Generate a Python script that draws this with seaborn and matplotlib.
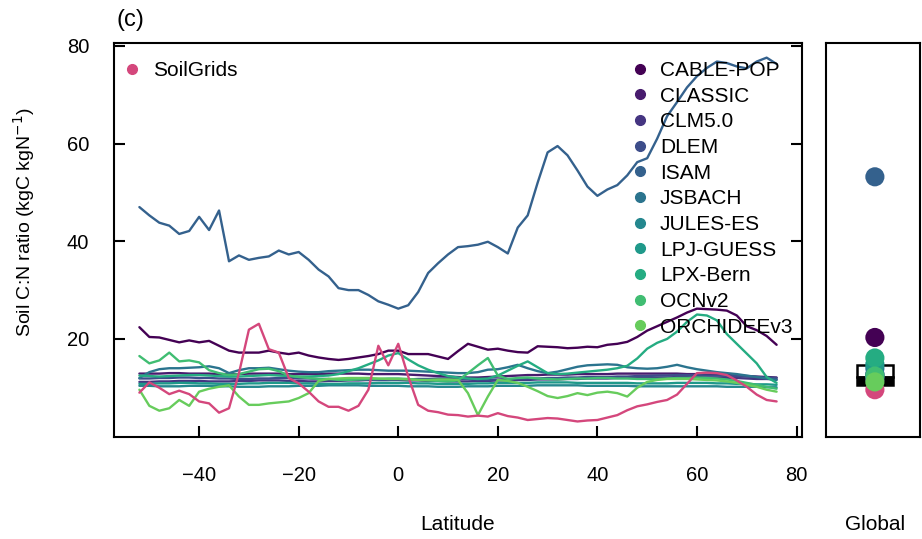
import numpy as np
import pandas as pd
import matplotlib
matplotlib.use("Agg")
import matplotlib.pyplot as plt
from matplotlib.lines import Line2D
from matplotlib.patches import Rectangle
import seaborn as sns

# Latitude grid (2-degree zonal bands)
latitude = np.arange(-52, 77, 2)

models = ["CABLE-POP", "CLASSIC", "CLM5.0", "DLEM", "ISAM", "JSBACH",
          "JULES-ES", "LPJ-GUESS", "LPX-Bern", "OCNv2", "ORCHIDEEv3"]

# Zonal-mean soil C:N ratio (kgC kgN-1), one row of 13 bands per line
cable_pop = [22.4, 20.4, 20.3, 19.8, 19.3, 19.7, 19.3, 19.6, 18.6, 17.6, 17.2, 17.2, 17.2,
             17.6, 17.2, 16.9, 17.2, 16.6, 16.2, 15.9, 15.7, 15.9, 16.2, 16.5, 16.9, 17.6,
             17.6, 16.9, 16.9, 16.9, 16.4, 15.9, 17.5, 19.0, 18.4, 17.8, 18.0, 17.6, 17.3,
             17.2, 18.5, 18.4, 18.3, 18.1, 18.2, 18.4, 18.3, 18.8, 19.0, 19.4, 20.4, 21.7,
             22.6, 23.5, 24.4, 25.4, 26.2, 26.1, 26.0, 25.8, 24.8, 22.6, 21.8, 20.6, 18.8]
classic = [12.9, 12.9, 12.9, 13.0, 13.0, 12.9, 12.9, 12.9, 12.8, 12.8, 12.8, 12.9, 12.9,
           12.9, 12.9, 12.8, 12.8, 12.8, 12.8, 12.9, 12.9, 12.9, 12.9, 12.8, 12.8, 12.8,
           12.8, 12.7, 12.6, 12.5, 12.4, 12.3, 12.2, 12.1, 12.1, 12.2, 12.3, 12.4, 12.5,
           12.6, 12.6, 12.7, 12.7, 12.7, 12.8, 12.8, 12.8, 12.8, 12.9, 12.9, 12.9, 12.9,
           12.9, 12.9, 12.9, 12.8, 12.8, 12.7, 12.7, 12.6, 12.5, 12.4, 12.3, 12.2, 12.1]
clm50 = [11.2, 11.2, 11.3, 11.3, 11.4, 11.4, 11.4, 11.3, 11.3, 11.3, 11.4, 11.4, 11.5,
         11.5, 11.5, 11.4, 11.4, 11.3, 11.3, 11.4, 11.4, 11.5, 11.5, 11.6, 11.6, 11.6,
         11.6, 11.5, 11.5, 11.4, 11.4, 11.3, 11.3, 11.3, 11.4, 11.4, 11.5, 11.5, 11.6,
         11.6, 11.7, 11.7, 11.7, 11.8, 11.8, 11.9, 11.9, 11.9, 12.0, 12.0, 12.0, 12.1,
         12.1, 12.1, 12.2, 12.2, 12.2, 12.1, 12.1, 12.0, 12.0, 11.9, 11.8, 11.8, 11.7]
dlem = [11.9, 11.9, 12.0, 12.0, 12.1, 12.1, 12.0, 12.0, 11.9, 11.9, 11.8, 11.8, 11.9,
        11.9, 12.0, 12.0, 11.9, 11.9, 11.8, 11.8, 11.7, 11.7, 11.7, 11.6, 11.6, 11.6,
        11.7, 11.7, 11.8, 11.8, 11.9, 11.9, 11.8, 11.8, 11.7, 11.7, 11.7, 11.8, 11.8,
        11.9, 11.9, 12.0, 12.0, 12.1, 12.1, 12.2, 12.2, 12.2, 12.3, 12.3, 12.4, 12.4,
        12.5, 12.5, 12.6, 12.6, 12.6, 12.5, 12.5, 12.4, 12.4, 12.3, 12.2, 12.1, 12.0]
isam = [47.0, 45.3, 43.8, 43.2, 41.5, 42.1, 45.0, 42.3, 46.3, 35.9, 37.1, 36.2, 36.6,
        36.9, 38.1, 37.3, 37.8, 36.2, 34.2, 32.8, 30.4, 30.0, 30.0, 29.0, 27.7, 27.0,
        26.2, 26.9, 29.6, 33.5, 35.5, 37.3, 38.8, 39.0, 39.3, 39.9, 38.8, 37.5, 42.8,
        45.3, 52.0, 58.2, 59.5, 57.6, 54.5, 51.2, 49.3, 50.6, 51.5, 53.5, 56.2, 57.0,
        61.0, 65.6, 68.5, 71.5, 73.8, 75.5, 76.8, 76.5, 75.8, 75.4, 76.8, 77.6, 76.3]
jsbach = [12.0, 13.2, 13.8, 14.0, 14.0, 14.1, 14.2, 14.4, 14.0, 13.0, 13.6, 14.0, 14.0,
          14.1, 13.8, 13.5, 13.3, 13.2, 13.2, 13.4, 13.5, 13.6, 13.7, 13.7, 13.6, 13.5,
          13.5, 13.5, 13.4, 13.3, 13.2, 13.1, 13.0, 13.0, 13.2, 13.7, 13.8, 14.2, 14.7,
          14.0, 13.4, 13.0, 13.3, 13.8, 14.3, 14.6, 14.7, 14.8, 14.7, 14.2, 14.0, 13.9,
          14.0, 14.3, 14.7, 14.2, 13.8, 13.5, 13.2, 13.0, 12.8, 12.5, 12.2, 11.9, 11.6]
jules_es = [10.4, 10.4, 10.3, 10.3, 10.3, 10.4, 10.4, 10.4, 10.3, 10.3, 10.2, 10.2, 10.2,
            10.3, 10.3, 10.3, 10.4, 10.4, 10.4, 10.5, 10.5, 10.5, 10.5, 10.4, 10.4, 10.4,
            10.4, 10.3, 10.3, 10.3, 10.2, 10.2, 10.2, 10.3, 10.3, 10.3, 10.4, 10.4, 10.4,
            10.4, 10.5, 10.5, 10.5, 10.5, 10.5, 10.4, 10.4, 10.4, 10.4, 10.4, 10.3, 10.3,
            10.3, 10.3, 10.3, 10.3, 10.3, 10.3, 10.3, 10.2, 10.2, 10.2, 10.2, 10.1, 10.1]
lpj_guess = [10.8, 10.8, 10.9, 10.9, 11.0, 11.0, 10.9, 10.9, 10.8, 10.8, 10.8, 10.9, 10.9,
             11.0, 11.0, 11.0, 10.9, 10.9, 10.8, 10.8, 10.8, 10.9, 10.9, 10.9, 11.0, 11.0,
             11.0, 11.0, 10.9, 10.9, 10.8, 10.8, 10.8, 10.8, 10.9, 10.9, 11.0, 11.0, 11.0,
             11.0, 11.1, 11.1, 11.1, 11.1, 11.0, 11.0, 11.0, 11.0, 11.0, 11.0, 10.9, 10.9,
             10.9, 10.9, 11.0, 11.0, 11.0, 11.0, 10.9, 10.9, 10.8, 10.8, 10.7, 10.7, 10.6]
lpx_bern = [12.5, 12.4, 12.3, 12.4, 12.5, 12.6, 12.6, 12.5, 12.4, 12.3, 12.3, 12.4, 12.5,
            12.6, 12.5, 12.4, 12.3, 12.3, 12.4, 12.5, 12.8, 13.4, 14.0, 14.8, 15.6, 16.6,
            17.1, 15.8, 14.6, 13.7, 13.0, 12.4, 12.1, 11.9, 11.8, 11.9, 12.5, 13.5, 14.5,
            15.4, 14.2, 13.0, 12.8, 12.9, 13.1, 13.3, 13.5, 13.7, 14.0, 14.5, 16.0, 18.0,
            19.2, 20.0, 21.5, 23.5, 25.0, 24.8, 23.8, 21.0, 19.0, 17.0, 15.0, 12.2, 11.0]
ocnv2 = [16.5, 15.0, 15.6, 17.2, 15.4, 15.6, 15.2, 13.6, 13.0, 12.6, 12.8, 13.3, 13.8,
         13.9, 13.4, 12.5, 12.2, 12.0, 11.8, 11.8, 11.6, 11.6, 11.7, 11.8, 11.8, 11.9,
         11.9, 11.8, 11.6, 11.5, 11.4, 11.3, 11.5, 13.0, 14.6, 16.1, 12.5, 11.8, 12.0,
         12.1, 11.9, 11.8, 11.7, 11.8, 11.9, 11.9, 12.0, 12.0, 11.9, 11.9, 11.8, 11.8,
         11.8, 11.9, 12.0, 12.0, 12.1, 12.0, 11.9, 11.7, 11.4, 11.0, 10.6, 10.2, 9.8]
orchidee_v3 = [9.6, 6.3, 5.3, 5.8, 7.5, 6.3, 9.2, 9.8, 10.2, 10.5, 8.2, 6.5, 6.5,
               6.8, 7.0, 7.2, 7.9, 8.9, 11.4, 11.8, 11.9, 12.0, 12.0, 12.0, 11.9, 11.8,
               11.8, 11.7, 11.6, 11.6, 11.7, 11.7, 11.6, 8.9, 4.4, 8.2, 11.6, 11.4, 11.0,
               10.2, 9.3, 8.3, 7.9, 8.3, 8.9, 8.5, 9.0, 9.2, 8.9, 8.2, 10.0, 11.2,
               11.6, 11.8, 11.8, 11.8, 11.7, 11.6, 11.5, 11.3, 11.0, 10.6, 10.2, 9.6, 9.2]
soilgrids = [9.0, 11.1, 10.0, 8.7, 9.4, 8.7, 7.2, 6.8, 4.9, 5.8, 13.0, 21.9, 23.1,
             17.9, 17.2, 12.0, 10.9, 9.2, 7.2, 6.1, 6.1, 5.3, 6.3, 9.6, 18.6, 14.6,
             19.0, 12.3, 6.5, 5.3, 5.0, 4.5, 4.4, 4.1, 4.3, 4.1, 4.8, 4.2, 3.9,
             3.4, 3.6, 3.8, 3.7, 3.4, 3.1, 3.3, 3.4, 3.9, 4.4, 5.4, 6.2, 6.6,
             7.1, 7.5, 8.6, 10.8, 13.0, 13.1, 13.0, 12.6, 11.5, 10.2, 8.6, 7.5, 7.2]

model_series = [cable_pop, classic, clm50, dlem, isam, jsbach,
                jules_es, lpj_guess, lpx_bern, ocnv2, orchidee_v3]

# Global mean C:N ratio per model and for SoilGrids
global_models = [20.3, 12.6, 11.8, 12.2, 53.2, 14.0, 12.8, 14.8, 16.1, 12.4, 11.2]
global_soilgrids = 9.6
# Observation-based global range (box) and lower band
obs_box = [12.3, 14.7]
obs_band = [10.6, 12.3]

# Colours
cmap = plt.get_cmap("viridis")
palette = {m: cmap(i / 13) for i, m in enumerate(models)}
palette["SoilGrids"] = "#d4477c"

rows = []
for m, vals in zip(models, model_series):
    for la, v in zip(latitude, vals):
        rows.append((m, la, v))
for la, v in zip(latitude, soilgrids):
    rows.append(("SoilGrids", la, v))
zonal = pd.DataFrame(rows, columns=["source", "lat", "cn"])

glob = pd.DataFrame({"source": ["SoilGrids"] + models,
                     "cn": [global_soilgrids] + global_models,
                     "where": "Global"})

sns.set_style("ticks")
plt.rcParams["font.family"] = ["Liberation Sans", "DejaVu Sans"]
plt.rcParams["axes.linewidth"] = 1.5
plt.rcParams["text.color"] = "black"
plt.rcParams["legend.labelcolor"] = "black"

W, H = 922, 539
fig = plt.figure(figsize=(W / 100, H / 100), dpi=100)
ax = fig.add_axes([114 / W, 1 - 436.6 / H, 688 / W, 393.6 / H])
axg = fig.add_axes([826 / W, 1 - 436.6 / H, 94 / W, 393.6 / H])

sns.lineplot(data=zonal, x="lat", y="cn", hue="source",
             hue_order=models + ["SoilGrids"], palette=palette,
             estimator=None, sort=False, linewidth=1.7, legend=False, ax=ax)

ax.set_xlim(-57.1, 81.1)
ax.set_ylim(0, 80.6)
ax.set_xticks([-40, -20, 0, 20, 40, 60, 80])
ax.set_yticks([20, 40, 60, 80])
ax.tick_params(axis="both", direction="in", length=8, width=1.5,
               labelsize=14.5, colors="black")
ax.tick_params(axis="x", pad=21)
ax.tick_params(axis="y", pad=18, right=True)
ax.set_xlabel("")
ax.set_ylabel("")
for s in ax.spines.values():
    s.set_color("black")
    s.set_linewidth(1.5)

# Legends
def dot(c):
    return Line2D([], [], marker="o", linestyle="none", markersize=7,
                  markerfacecolor=c, markeredgecolor=c)

leg1 = ax.legend([dot(palette[m]) for m in models], models,
                 loc="upper left", bbox_to_anchor=(0.7525, 0.954),
                 frameon=False, fontsize=15, handlelength=0.8,
                 handletextpad=0.56, labelspacing=0.32, borderpad=0,
                 borderaxespad=0)
ax.add_artist(leg1)
ax.legend([dot(palette["SoilGrids"])], ["SoilGrids"],
          loc="upper left", bbox_to_anchor=(0.0141, 0.954),
          frameon=False, fontsize=15, handlelength=0.8,
          handletextpad=0.61, borderpad=0, borderaxespad=0)

# Global panel
axg.add_patch(Rectangle((-0.19, obs_box[0]), 0.38, obs_box[1] - obs_box[0],
                        facecolor="white", edgecolor="black", linewidth=1.8, zorder=2))
axg.add_patch(Rectangle((-0.19, obs_band[0]), 0.38, obs_band[1] - obs_band[0],
                        facecolor="black", edgecolor="black", linewidth=1.8, zorder=2))
sns.scatterplot(data=glob, x="where", y="cn", hue="source",
                hue_order=["SoilGrids"] + models, palette=palette,
                s=190, linewidth=0, legend=False, ax=axg, zorder=3)
axg.set_xlim(-0.52, 0.48)
axg.set_ylim(0, 80.6)
axg.set_xticks([])
axg.set_yticks([])
axg.set_xlabel("")
axg.set_ylabel("")
for s in axg.spines.values():
    s.set_color("black")
    s.set_linewidth(1.5)

fig.text(458 / W, 1 - 525 / H, "Latitude", ha="center", va="center", fontsize=15)
fig.text(875 / W, 1 - 525 / H, "Global", ha="center", va="center", fontsize=15)
fig.text(24 / W, 1 - 222 / H, "Soil C:N ratio (kgC kgN$^{-1}$)", rotation=90,
         ha="center", va="center", fontsize=14)
fig.text(116 / W, 1 - 20 / H, "(c)", ha="left", va="center", fontsize=17)

fig.savefig("out.png", dpi=100)
